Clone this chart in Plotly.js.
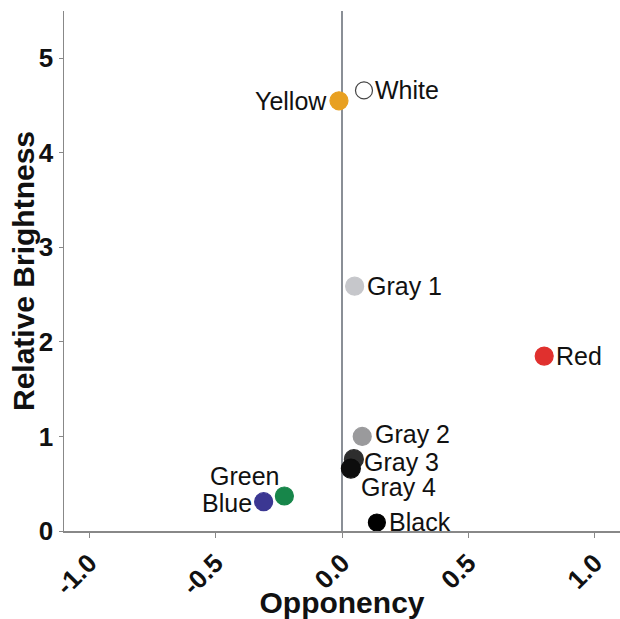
<!DOCTYPE html>
<html><head><meta charset="utf-8">
<script src="https://cdn.plot.ly/plotly-3.0.1.min.js"></script>
<style>html,body{margin:0;padding:0;background:#fff}</style>
</head><body>
<div id="chart" style="width:620px;height:619px"></div>
<script>
const labels = ["White","Yellow","Gray 1","Red","Gray 2","Gray 3","Gray 4","Black","Green","Blue"];
const opponency = [0.087,-0.012,0.05,0.80,0.08,0.047,0.035,0.138,-0.228,-0.31];
const brightness = [4.66,4.55,2.59,1.85,1.0,0.76,0.66,0.09,0.37,0.31];
const fillColors = ["#ffffff","#E8A021","#C6C7CB","#E0302E","#9A9A9C","#2E2E2E","#0D0D0D","#000000","#17864A","#3B3792"];
const lineColors = ["#444444","#E8A021","#C6C7CB","#E0302E","#9A9A9C","#2E2E2E","#0D0D0D","#000000","#17864A","#3B3792"];
const sizes = [17,18,18,18,18,19,19,17,18,18];
// label placement: anchor side and pixel offsets from the point
const labelAnchor = ["left","right","left","left","left","left","left","left","right","right"];
const labelDx = [10,-11,11,11,12,9,9,11,-4,-11];
const labelDy = [0,0,0,0,2,-3,-18,0,20,-1];

const FONT = "Liberation Sans, Arial, sans-serif";
const trace = {
  x: opponency, y: brightness,
  mode: "markers", type: "scatter",
  marker: {color: fillColors, size: sizes, opacity: 1, line: {color: lineColors, width: 1.2}},
  cliponaxis: false, hoverinfo: "none"
};
const annotations = labels.map((t, i) => ({
  x: opponency[i], y: brightness[i], xref: "x", yref: "y",
  text: t, showarrow: false, xanchor: labelAnchor[i], yanchor: "middle",
  xshift: labelDx[i], yshift: labelDy[i],
  font: {family: FONT, size: 25, color: "#111"}, borderpad: 0
}));
const tickFont = {family: FONT, size: 26, color: "#111", weight: "bold"};
const layout = {
  width: 620, height: 619,
  margin: {l: 64, r: 0, t: 11, b: 88},
  paper_bgcolor: "#fff", plot_bgcolor: "#fff",
  showlegend: false,
  annotations: annotations,
  xaxis: {
    range: [-1.1, 1.1], tickvals: [-1.0,-0.5,0.0,0.5,1.0], ticktext: ["-1.0","-0.5","0.0","0.5","1.0"],
    tickangle: -45, tickfont: tickFont, ticks: "outside", ticklen: 5, tickcolor: "#888",
    showgrid: false, showline: true, linecolor: "#888", linewidth: 1.5,
    zeroline: true, zerolinecolor: "#8a8f96", zerolinewidth: 1.5,
    title: {text: "<b>Opponency</b>", font: {family: FONT, size: 30, color: "#111"}, standoff: 4}
  },
  yaxis: {
    range: [0, 5.5], tickvals: [0,1,2,3,4,5], tickfont: tickFont, ticks: "outside", ticklen: 4, tickcolor: "#888",
    showgrid: false, showline: true, linecolor: "#888", linewidth: 1.5, zeroline: false,
    title: {text: "<b>Relative Brightness</b>", font: {family: FONT, size: 30, color: "#111"}, standoff: 0}
  }
};
Plotly.newPlot("chart", [trace], layout, {displayModeBar: false, staticPlot: true}).then(() => {
  const t = document.querySelector(".ytitle");
  if (t) t.setAttribute("transform", (t.getAttribute("transform") || "") + " translate(0,5)");
});
</script>
</body></html>
